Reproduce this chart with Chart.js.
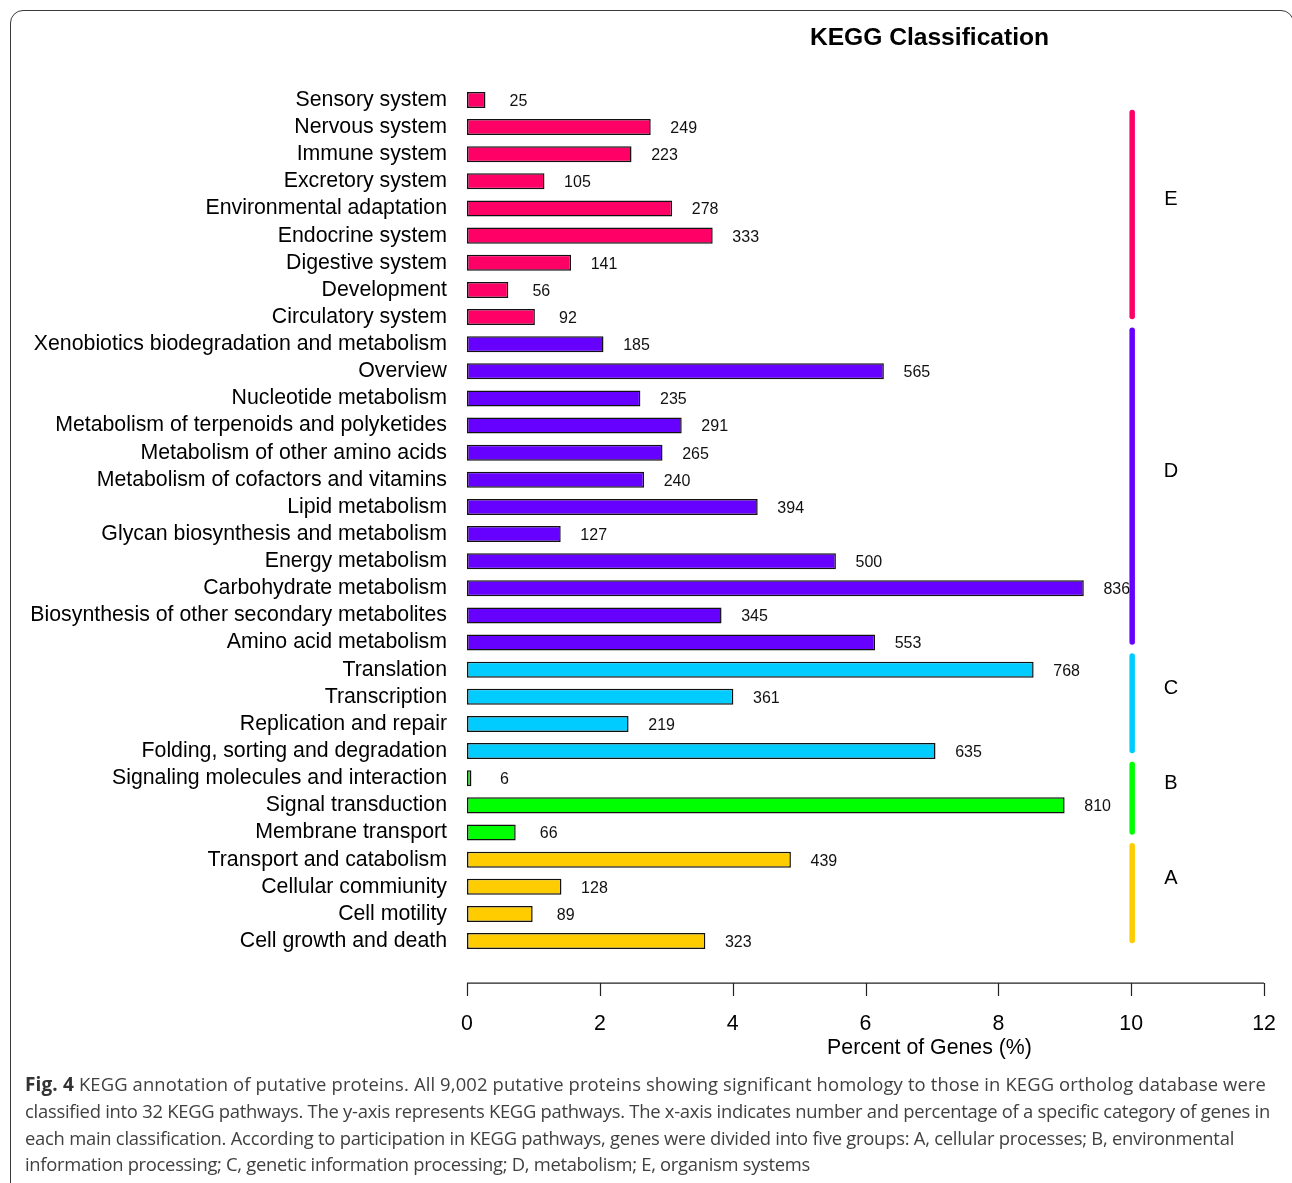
<!DOCTYPE html>
<html>
<head>
<meta charset="utf-8">
<script src="https://cdn.jsdelivr.net/npm/chart.js@4/dist/chart.umd.min.js"></script>
<style>
  html, body { margin: 0; padding: 0; background: #fff; }
  #wrap { position: relative; width: 1292px; height: 1183px; overflow: hidden; }
  #frame {
    position: absolute; left: 10px; top: 10px; width: 1284px; height: 1200px;
    border: 1.5px solid #3a3a3a; border-radius: 13px; box-sizing: border-box;
  }
  #kegg { position: absolute; left: 0; top: 0; }
  #caption {
    position: absolute; left: 25px; top: 1071px; width: 1262px;
    font-family: "Open Sans", "Liberation Sans", sans-serif; font-size: 18.4px;
    line-height: 26.8px; color: #404040;
  }
  #caption .line { white-space: nowrap; display: inline-block; }
  #caption b { color: #333; font-size: 19px; }
</style>
</head>
<body>
<div id="wrap">
  <div id="frame"></div>
  <canvas id="kegg" width="1292" height="1183"></canvas>
  <div id="caption">
    <span class="line" data-right="1266"><b>Fig. 4</b> KEGG annotation of putative proteins. All 9,002 putative proteins showing significant homology to those in KEGG ortholog database were</span><br>
    <span class="line" data-right="1270">classified into 32 KEGG pathways. The y-axis represents KEGG pathways. The x-axis indicates number and percentage of a specific category of genes in</span><br>
    <span class="line" data-right="1234">each main classification. According to participation in KEGG pathways, genes were divided into five groups: A, cellular processes; B, environmental</span><br>
    <span class="line" data-right="810">information processing; C, genetic information processing; D, metabolism; E, organism systems</span>
  </div>
</div>
<script>
// KEGG pathways, top to bottom
const pathways = [
  "Sensory system", "Nervous system", "Immune system", "Excretory system",
  "Environmental adaptation", "Endocrine system", "Digestive system", "Development",
  "Circulatory system",
  "Xenobiotics biodegradation and metabolism", "Overview", "Nucleotide metabolism",
  "Metabolism of terpenoids and polyketides", "Metabolism of other amino acids",
  "Metabolism of cofactors and vitamins", "Lipid metabolism",
  "Glycan biosynthesis and metabolism", "Energy metabolism", "Carbohydrate metabolism",
  "Biosynthesis of other secondary metabolites", "Amino acid metabolism",
  "Translation", "Transcription", "Replication and repair", "Folding, sorting and degradation",
  "Signaling molecules and interaction", "Signal transduction", "Membrane transport",
  "Transport and catabolism", "Cellular commiunity", "Cell motility", "Cell growth and death"
];

// number of genes in each pathway
const geneCounts = [
  25, 249, 223, 105, 278, 333, 141, 56, 92,
  185, 565, 235, 291, 265, 240, 394, 127, 500, 836, 345, 553,
  768, 361, 219, 635,
  6, 810, 66,
  439, 128, 89, 323
];

// main classification of each pathway
const pathwayGroup = [
  "E", "E", "E", "E", "E", "E", "E", "E", "E",
  "D", "D", "D", "D", "D", "D", "D", "D", "D", "D", "D", "D",
  "C", "C", "C", "C",
  "B", "B", "B",
  "A", "A", "A", "A"
];

const groupLetters = ["E", "D", "C", "B", "A"];
const groupColors = ["#FF0066", "#6600FF", "#00CCFF", "#00FF00", "#FFCC00"];

const totalProteins = 9002;
const xTicks = [0, 2, 4, 6, 8, 10, 12];

const percents = geneCounts.map(c => c / totalProteins * 100);
const barColors = pathwayGroup.map(g => groupColors[groupLetters.indexOf(g)]);

const FONT = "'Liberation Sans', Arial, Helvetica, sans-serif";

// stretch each caption line to its column width
document.querySelectorAll("#caption .line").forEach(el => {
  const target = Number(el.dataset.right) - 25;
  const natural = el.getBoundingClientRect().width;
  const n = el.textContent.length;
  el.style.letterSpacing = ((target - natural) / n).toFixed(3) + "px";
});

const decorations = {
  id: "keggDecorations",
  afterDatasetsDraw(chart) {
    const { ctx, chartArea } = chart;
    const xs = chart.scales.x, ys = chart.scales.y;
    const pitch = ys.getPixelForValue(1) - ys.getPixelForValue(0);
    ctx.save();

    // gene counts beside each bar
    ctx.fillStyle = "#111";
    ctx.font = "16px " + FONT;
    ctx.textAlign = "center";
    ctx.textBaseline = "middle";
    chart.getDatasetMeta(0).data.forEach((bar, i) => {
      ctx.fillText(String(geneCounts[i]), bar.x + 33, bar.y + 1.5);
    });

    // bracket lines and letters for the main classifications
    const lineX = xs.getPixelForValue(10) + 1;
    const letterX = xs.getPixelForValue(10.6);
    groupLetters.forEach((g, gi) => {
      const first = pathwayGroup.indexOf(g);
      const last = pathwayGroup.lastIndexOf(g);
      const top = ys.getPixelForValue(first) + (first === 0 ? 0.37 : -0.6) * pitch;
      const bottom = ys.getPixelForValue(last) + 0.07 * pitch;
      ctx.strokeStyle = groupColors[gi];
      ctx.lineWidth = 5.5;
      ctx.lineCap = "round";
      ctx.beginPath();
      ctx.moveTo(lineX, top + 2.5);
      ctx.lineTo(lineX, bottom - 2.5);
      ctx.stroke();
      ctx.fillStyle = "#000";
      ctx.font = "20px " + FONT;
      ctx.textAlign = "center";
      ctx.textBaseline = "middle";
      ctx.fillText(g, letterX, (top + bottom) / 2 - 15);
    });

    // x axis line and tick marks, set below the bars
    const axisY = chartArea.bottom + 28.5;
    ctx.strokeStyle = "#222";
    ctx.lineWidth = 1.2;
    ctx.lineCap = "butt";
    ctx.beginPath();
    ctx.moveTo(xs.getPixelForValue(xTicks[0]), axisY);
    ctx.lineTo(xs.getPixelForValue(xTicks[xTicks.length - 1]), axisY);
    xs.ticks.forEach(t => {
      const px = Math.round(xs.getPixelForValue(t.value)) + 0.5;
      ctx.moveTo(px, axisY);
      ctx.lineTo(px, axisY + 13);
    });
    ctx.stroke();

    // axis title and chart title
    ctx.fillStyle = "#000";
    ctx.textAlign = "center";
    ctx.textBaseline = "middle";
    ctx.font = "21.3px " + FONT;
    ctx.fillText("Percent of Genes (%)", 929.5, 1048);
    ctx.font = "bold 24.6px " + FONT;
    ctx.fillText("KEGG Classification", 929.5, 38.5);
    ctx.restore();
  }
};

new Chart(document.getElementById("kegg"), {
  type: "bar",
  data: {
    labels: pathways,
    datasets: [{
      data: percents,
      backgroundColor: barColors,
      borderColor: "#111",
      borderWidth: 1.5,
      borderSkipped: false,
      barPercentage: 0.59,
      categoryPercentage: 1.0
    }]
  },
  options: {
    indexAxis: "y",
    responsive: false,
    animation: false,
    events: [],
    layout: { padding: { top: 86.4, right: 28, bottom: 128.4, left: 0 } },
    plugins: { legend: { display: false }, tooltip: { enabled: false } },
    scales: {
      x: {
        min: 0, max: 12,
        grid: { display: false, drawTicks: false },
        border: { display: false },
        afterBuildTicks(scale) { scale.ticks = xTicks.map(v => ({ value: v })); },
        afterFit(scale) { scale.height = 100; scale.paddingLeft = 0; scale.paddingRight = 0; },
        ticks: { color: "#000", font: { family: FONT, size: 21.3 }, padding: 57, maxRotation: 0 }
      },
      y: {
        grid: { display: false, drawTicks: false },
        border: { display: false },
        afterFit(scale) { scale.width = 467; scale.paddingTop = 0; scale.paddingBottom = 0; },
        ticks: { color: "#000", font: { family: FONT, size: 21.3 }, padding: 20, autoSkip: false }
      }
    }
  },
  plugins: [decorations]
});
</script>
</body>
</html>
